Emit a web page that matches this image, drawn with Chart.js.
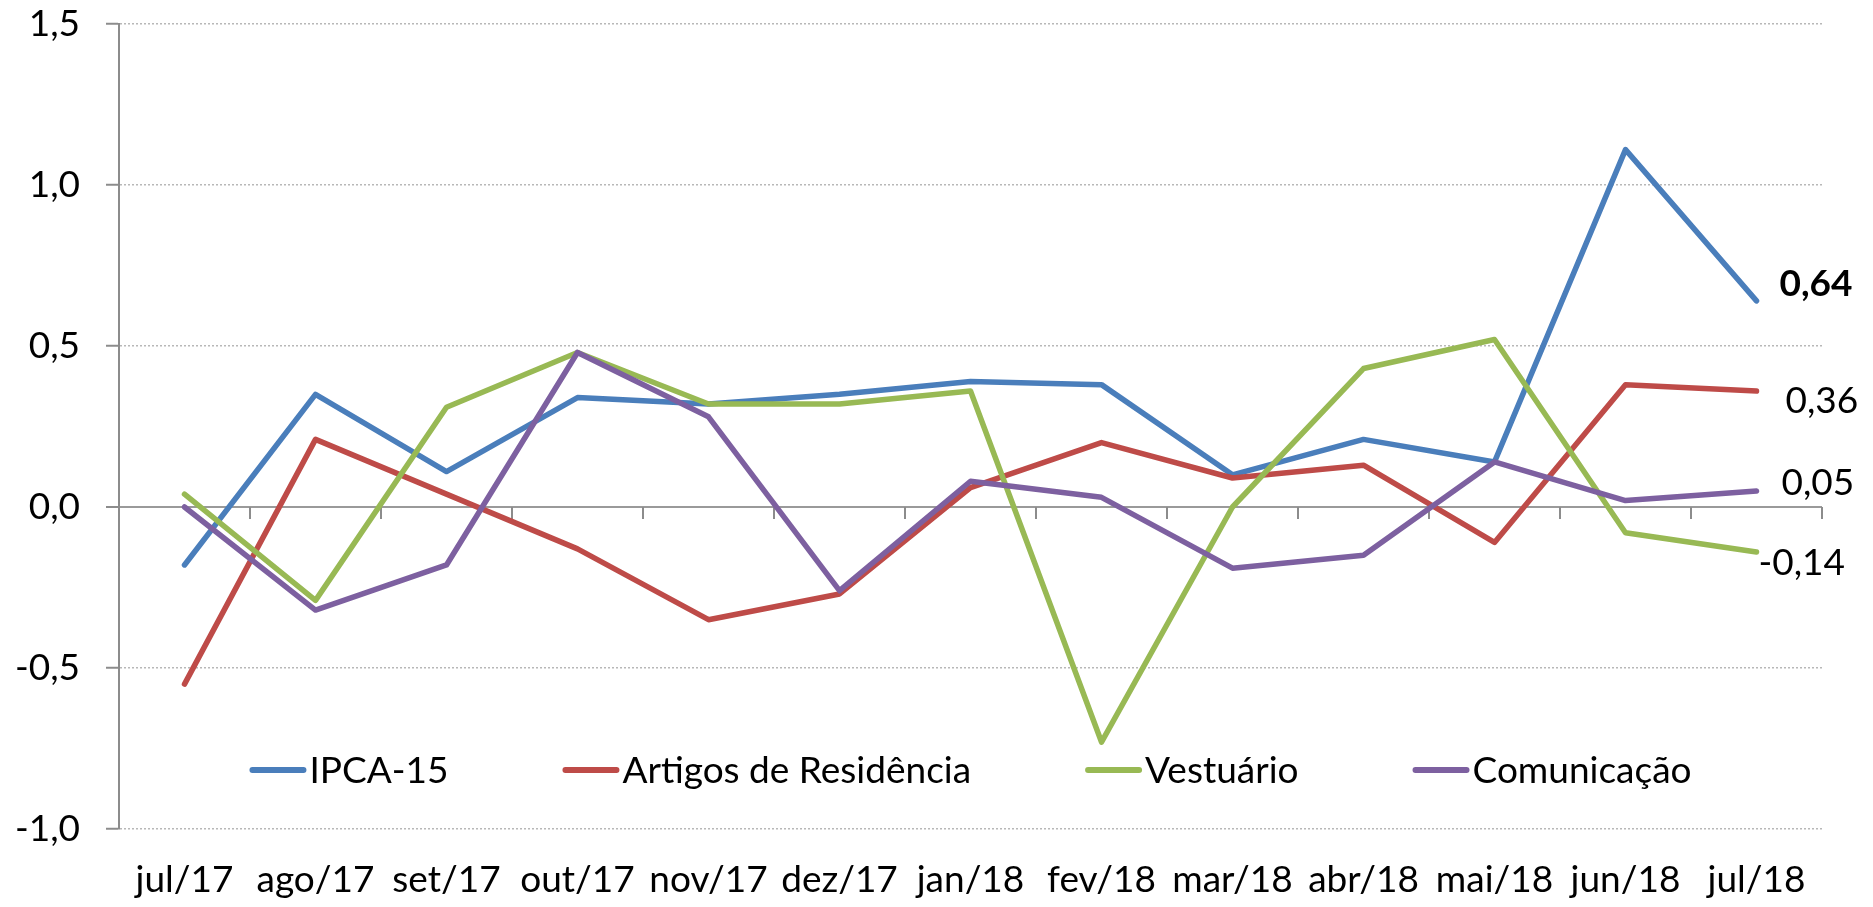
<!DOCTYPE html>
<html>
<head>
<meta charset="utf-8">
<script src="https://cdn.jsdelivr.net/npm/chart.js@4.4.0/dist/chart.umd.min.js"></script>
<style>
    html,body{margin:0;padding:0;background:#fff;}
    #wrap{width:1873px;height:907px;}
</style>
</head>
<body>
<div id="wrap"><canvas id="ipcaChart" width="1873" height="907"></canvas></div>
<script>
    const months=["jul/17","ago/17","set/17","out/17","nov/17","dez/17","jan/18","fev/18","mar/18","abr/18","mai/18","jun/18","jul/18"];
    const ipca15=[-0.18,0.35,0.11,0.34,0.32,0.35,0.39,0.38,0.10,0.21,0.14,1.11,0.64];
    const artigos=[-0.55,0.21,0.04,-0.13,-0.35,-0.27,0.06,0.20,0.09,0.13,-0.11,0.38,0.36];
    const vestuario=[0.04,-0.29,0.31,0.48,0.32,0.32,0.36,-0.73,0.00,0.43,0.52,-0.08,-0.14];
    const comunicacao=[0.00,-0.32,-0.18,0.48,0.28,-0.26,0.08,0.03,-0.19,-0.15,0.14,0.02,0.05];
    const yTicks=[-1.0,-0.5,0.0,0.5,1.0,1.5];

    const fontFamily="Lato, 'Open Sans', sans-serif";
    const fontSize=37;
    const fmt=(v,d)=>v.toFixed(d).replace(".",",");

    // tick marks on the zero line, between the months
    const zeroTicks={
        id: "zeroTicks",
        beforeDatasetsDraw(chart){
            const {ctx,scales:{x,y}}=chart;
            const y0=y.getPixelForValue(0);
            ctx.save();
            ctx.strokeStyle="#8c8c8c";
            ctx.lineWidth=2;
            ctx.beginPath();
            for(let i=1;i<=months.length;i++){
                const px=x.getPixelForValue(i-0.5);
                ctx.moveTo(px,y0);
                ctx.lineTo(px,y0+12);
            }
            ctx.stroke();
            ctx.restore();
        },
    };

    // last value written next to the end of each line
    const endLabels={
        id: "endLabels",
        afterDatasetsDraw(chart){
            const {ctx}=chart;
            ctx.save();
            ctx.textBaseline="middle";
            ctx.textAlign="left";
            ctx.fillStyle="#000";
            chart.data.datasets.forEach((ds,i)=>{
                const pts=chart.getDatasetMeta(i).data;
                const last=pts[pts.length-1];
                const v=ds.data[ds.data.length-1];
                ctx.font=(ds.endBold?"bold ":"")+fontSize+"px "+fontFamily;
                ctx.fillText(fmt(v,2),last.x+ds.endDx,last.y+ds.endDy);
            });
            ctx.restore();
        },
    };

    // legend inside the plot, near the bottom
    const innerLegend={
        id: "innerLegend",
        afterDraw(chart){
            const {ctx,chartArea}=chart;
            const lineLen=57, lineGap=3, itemGap=114;
            ctx.save();
            ctx.font=fontSize+"px "+fontFamily;
            const items=chart.data.datasets.map(ds=>({ds,w:ctx.measureText(ds.label).width}));
            let total=items.reduce((s,it)=>s+lineLen+lineGap+it.w,0)+itemGap*(items.length-1);
            let x=(chartArea.left+chartArea.right)/2-total/2;
            const y=chartArea.bottom-59;
            ctx.textBaseline="middle";
            ctx.textAlign="left";
            items.forEach(it=>{
                ctx.strokeStyle=it.ds.borderColor;
                ctx.lineWidth=6;
                ctx.lineCap="round";
                ctx.beginPath();
                ctx.moveTo(x+3,y);
                ctx.lineTo(x+lineLen-3,y);
                ctx.stroke();
                ctx.fillStyle="#000";
                ctx.fillText(it.ds.label,x+lineLen+lineGap,y+1);
                x+=lineLen+lineGap+it.w+itemGap;
            });
            ctx.restore();
        },
    };

    Chart.defaults.font.family=fontFamily;
    Chart.defaults.font.size=fontSize;
    Chart.defaults.color="#000";

    const lineStyle={
        borderWidth: 5.5,
        pointRadius: 0,
        tension: 0,
        fill: false,
        borderCapStyle: "round",
        borderJoinStyle: "round",
    };

    const ctxIpca=document.getElementById("ipcaChart").getContext("2d");
    const ipcaChart=new Chart(ctxIpca,{
        type: "line",
        data: {
            labels: months,
            datasets: [
                {...lineStyle,label:"IPCA-15",data:ipca15,borderColor:"#4a7ebb",order:4,endDx:23,endDy:-17,endBold:true},
                {...lineStyle,label:"Artigos de Residência",data:artigos,borderColor:"#be4b48",order:3,endDx:29,endDy:10},
                {...lineStyle,label:"Vestuário",data:vestuario,borderColor:"#98b954",order:2,endDx:2,endDy:11},
                {...lineStyle,label:"Comunicação",data:comunicacao,borderColor:"#7d60a0",order:1,endDx:25,endDy:-8},
            ],
        },
        plugins: [zeroTicks,endLabels,innerLegend],
        options: {
            responsive: false,
            animation: false,
            layout: {
                padding: {top:0,right:51,bottom:0,left:0},
            },
            plugins: {
                legend: {display:false},
                tooltip: {enabled:false},
            },
            scales: {
                x: {
                    offset: true,
                    grid: {display:false,drawTicks:false},
                    border: {display:false},
                    ticks: {padding:29,maxRotation:0,autoSkip:false},
                    afterFit: s=>{s.height=78;},
                },
                y: {
                    min: -1,
                    max: 1.5,
                    afterBuildTicks: s=>{s.ticks=yTicks.map(v=>({value:v}));},
                    afterFit: s=>{s.width=119;s.paddingTop=24;},
                    ticks: {
                        padding: 26,
                        callback: v=>fmt(v,1),
                    },
                    grid: {
                        color: c=>c.tick && c.tick.value===0 ? "#9a9a9a" : "#b8b8b8",
                        lineWidth: c=>c.tick && c.tick.value===0 ? 2 : 1.5,
                        tickColor: "#8c8c8c",
                        tickWidth: 2,
                        tickLength: 13,
                    },
                    border: {
                        display: true,
                        color: "#8c8c8c",
                        width: 2,
                        dash: c=>c.tick && c.tick.value!==0 ? [2,2] : [],
                    },
                },
            },
        },
    });
</script>
</body>
</html>
